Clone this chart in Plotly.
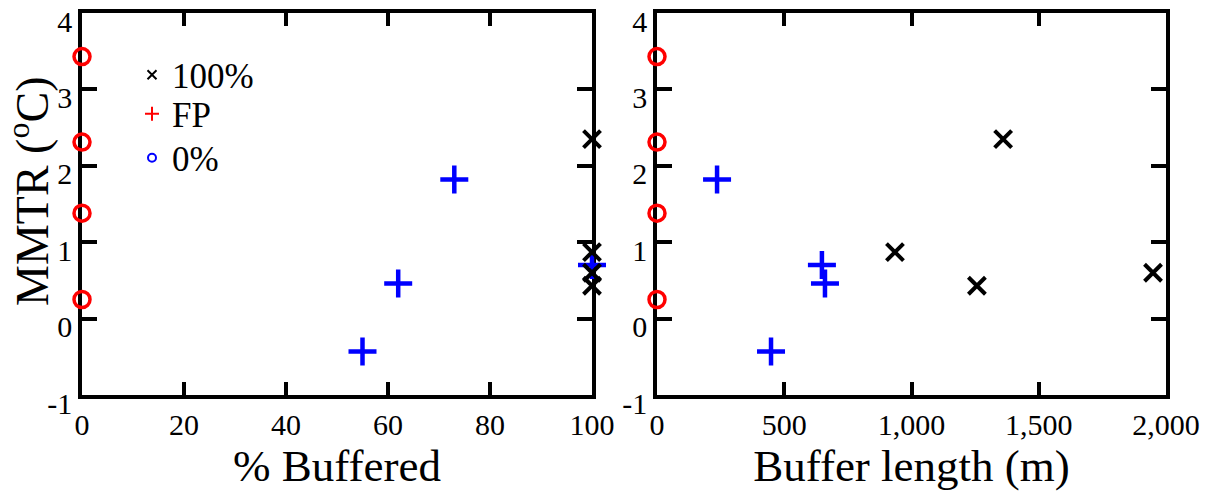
import plotly.graph_objects as go

# ---- data ----
full_mmtr = [0.87, 0.43, 2.35, 0.60]
full_pct = [100, 100, 100, 100]
full_len = [935, 1257, 1360, 1949]

fp_mmtr = [1.82, -0.43, 0.70, 0.46]
fp_pct = [73, 55, 100, 62]
fp_len = [236, 448, 648, 660]

none_mmtr = [0.25, 1.38, 2.31, 3.43]
none_pct = [0, 0, 0, 0]
none_len = [0, 0, 0, 0]

y_ticks = [-1, 0, 1, 2, 3, 4]
y_ticktext = ["-1", "0", "1", "2", "3", "4"]
pct_ticks = [0, 20, 40, 60, 80, 100]
len_ticks = [0, 500, 1000, 1500, 2000]
len_ticktext = ["0", "500", "1,000", "1,500", "2,000"]

FONT = "Liberation Serif"
LW = 3.5

W, H = 1208, 492


def px(x):
    return x / W


def py(y):
    return 1 - y / H


fig = go.Figure()


def add_panel(xs_full, xs_fp, xs_none, xa, ya):
    fig.add_trace(go.Scatter(x=xs_none, y=none_mmtr, mode="markers", xaxis=xa, yaxis=ya,
                             showlegend=False, cliponaxis=False,
                             marker=dict(symbol="circle-open", size=16, color="red",
                                         line=dict(width=3.5, color="red"))))
    fig.add_trace(go.Scatter(x=xs_fp, y=fp_mmtr, mode="markers", xaxis=xa, yaxis=ya,
                             showlegend=False, cliponaxis=False,
                             marker=dict(symbol="cross-thin", size=20, color="blue",
                                         line=dict(width=4.5, color="blue"))))
    fig.add_trace(go.Scatter(x=xs_full, y=full_mmtr, mode="markers", xaxis=xa, yaxis=ya,
                             showlegend=False, cliponaxis=False,
                             marker=dict(symbol="x-thin", size=17, color="black",
                                         line=dict(width=4, color="black"))))


add_panel(full_pct, fp_pct, none_pct, "x", "y")
add_panel(full_len, fp_len, none_len, "x2", "y2")

# legend entries (legend-only), one legend each for exact placement
fig.add_trace(go.Scatter(x=[None], y=[None], mode="markers", name="100%", legend="legend",
                         marker=dict(symbol="x-thin", size=9, color="black",
                                     line=dict(width=2, color="black"))))
fig.add_trace(go.Scatter(x=[None], y=[None], mode="markers", name="FP", legend="legend2",
                         marker=dict(symbol="cross-thin", size=10, color="red",
                                     line=dict(width=2, color="red"))))
fig.add_trace(go.Scatter(x=[None], y=[None], mode="markers", name="0%", legend="legend3",
                         marker=dict(symbol="circle-open", size=8, color="blue",
                                     line=dict(width=2, color="blue"))))

axis_common = dict(showline=True, linewidth=LW, linecolor="black", mirror="ticks",
                   ticks="inside", tickwidth=LW, tickcolor="black", showgrid=False,
                   zeroline=False, layer="below traces", ticklabeloverflow="allow",
                   automargin=False,
                   tickfont=dict(family=FONT, size=30, color="black"))


def leg(ycenter):
    return dict(x=px(132), y=py(ycenter), xanchor="left", yanchor="middle",
                bgcolor="rgba(0,0,0,0)", font=dict(family=FONT, size=35, color="black"),
                valign="top", itemwidth=30, borderwidth=0)


fig.update_layout(
    template="none",
    width=W, height=H,
    margin=dict(l=0, r=0, t=0, b=0),
    paper_bgcolor="white", plot_bgcolor="white",
    font=dict(family=FONT, color="black"),
    showlegend=True,
    legend=leg(75),
    legend2=leg(114),
    legend3=leg(158),
    xaxis=dict(domain=[px(82), px(592)], range=[0, 100], tickvals=pct_ticks,
               ticklen=13, anchor="y",
               title=dict(text="% Buffered", font=dict(family=FONT, size=45, color="black"),
                          standoff=4),
               **axis_common),
    yaxis=dict(domain=[py(395), py(13)], range=[-1, 4], tickvals=y_ticks, ticktext=y_ticktext,
               ticklen=15, anchor="x", ticklabelshift=8,
               **axis_common),
    xaxis2=dict(domain=[px(657), px(1166)], range=[0, 2000], tickvals=len_ticks,
                ticktext=len_ticktext, ticklen=13, anchor="y2",
                title=dict(text="Buffer length (m)",
                           font=dict(family=FONT, size=45, color="black"), standoff=4),
                **axis_common),
    yaxis2=dict(domain=[py(395), py(13)], range=[-1, 4], tickvals=y_ticks, ticktext=y_ticktext,
                ticklen=15, anchor="x2", ticklabelshift=8,
                **axis_common),
    annotations=[dict(text="MMTR (<sup>o</sup>C)", xref="paper", yref="paper",
                      x=px(29), y=py(191), xanchor="center", yanchor="middle",
                      textangle=-90, showarrow=False,
                      font=dict(family=FONT, size=46, color="black"))],
)

fig.write_html("out.html", post_script="document.body.style.margin='0';",
               config={"displayModeBar": False})
